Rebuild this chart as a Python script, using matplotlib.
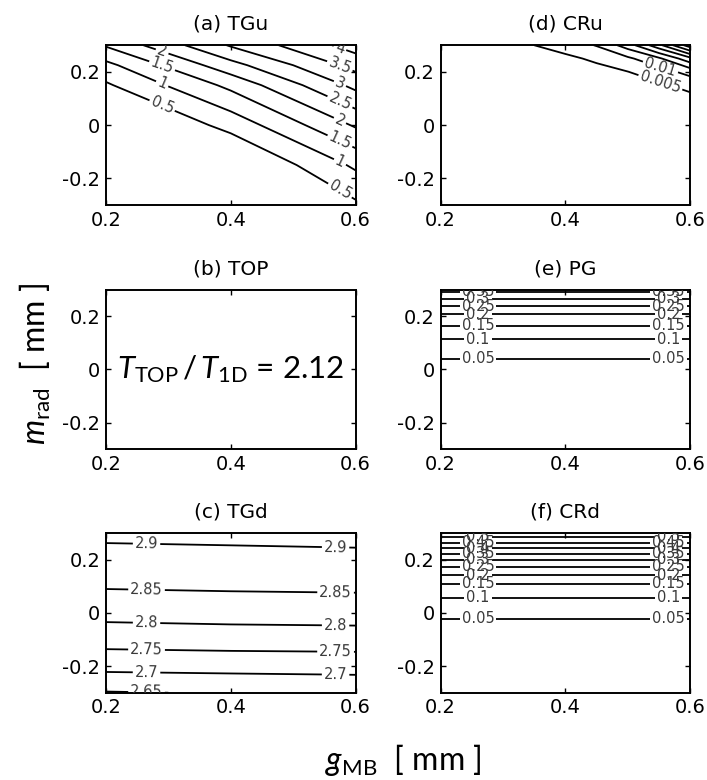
import numpy as np
import matplotlib
matplotlib.use("Agg")
import matplotlib.pyplot as plt

plt.rcParams['font.family'] = ['DejaVu Sans']
plt.rcParams['mathtext.fontset'] = 'custom'
plt.rcParams['mathtext.rm'] = 'Lato'
plt.rcParams['mathtext.it'] = 'Lato:italic'

# (a) TGu  -- field values read at grid nodes (rows = m_rad, cols = g_MB)
tgu_x = [0.2, 0.4, 0.6]
tgu_y = [-0.3, -0.15, 0.0, 0.15, 0.225, 0.3]
tgu_z = [[-1.6, -0.9, 0.41],
         [-1.0, -0.16, 1.09],
         [-0.3, 0.67, 2.06],
         [0.43, 1.63, 3.14],
         [0.86, 2.32, 3.68],
         [1.55, 3.05, 4.22]]
tgu_levels = [0.5, 1.0, 1.5, 2.0, 2.5, 3.0, 3.5, 4.0, 4.5]

# (b) TOP
top_ratio = 2.12

# (c) TGd
tgd_x = [0.2, 0.4, 0.6]
tgd_y = [-0.3, -0.2, -0.1, 0.0, 0.1, 0.2, 0.3]
tgd_z = [[2.647, 2.653, 2.659],
         [2.715, 2.718, 2.720],
         [2.770, 2.774, 2.776],
         [2.816, 2.820, 2.822],
         [2.854, 2.857, 2.859],
         [2.882, 2.885, 2.887],
         [2.911, 2.913, 2.916]]
tgd_levels = [2.65, 2.7, 2.75, 2.8, 2.85, 2.9]

# (d) CRu
cru_x = [0.2, 0.3, 0.4, 0.45, 0.5, 0.55, 0.6]
cru_y = [-0.3, 0.0, 0.1, 0.15, 0.2, 0.25, 0.3]
cru_z = [[0, 0, 0, 0, 0, 0, 0],
         [0, 0, 0, 0, 0, 0, 0],
         [0, 0, 0, 0, 0.0004, 0.0022, 0.0036],
         [0, 0, 0, 0.0011, 0.0027, 0.0042, 0.0066],
         [0, 0, 0.0017, 0.0033, 0.0049, 0.0078, 0.0117],
         [0, 0.0007, 0.0039, 0.0059, 0.0090, 0.0141, 0.0235],
         [0, 0.0029, 0.0071, 0.0103, 0.0174, 0.0285, 0.0430]]
cru_levels = [0.005, 0.01, 0.015, 0.02, 0.025, 0.03, 0.035, 0.04]

# (e) PG  -- same profile along g_MB
pg_x = [0.2, 0.6]
pg_y = [-0.3, -0.2, -0.1, 0.0, 0.05, 0.1, 0.15, 0.2, 0.225, 0.25, 0.275, 0.3]
pg_z = [0.0, 0.001, 0.005, 0.023, 0.056, 0.088, 0.134, 0.188, 0.229, 0.273, 0.317, 0.369]
pg_levels = [0.05, 0.1, 0.15, 0.2, 0.25, 0.3, 0.35]

# (f) CRd
crd_x = [0.2, 0.6]
crd_y = [-0.3, -0.2, -0.1, 0.0, 0.05, 0.1, 0.125, 0.15, 0.175, 0.2, 0.225, 0.25, 0.275, 0.3]
crd_z = [0.0, 0.01, 0.025, 0.057, 0.095, 0.138, 0.171, 0.214, 0.254, 0.3, 0.357, 0.417, 0.476, 0.536]
crd_levels = [0.05, 0.1, 0.15, 0.2, 0.25, 0.3, 0.35, 0.4, 0.45, 0.5]

xticks = [0.2, 0.4, 0.6]
yticks = [-0.2, 0, 0.2]


def setup(ax, title):
    ax.set_xlim(0.2, 0.6)
    ax.set_ylim(-0.3, 0.3)
    ax.set_xticks(xticks)
    ax.set_yticks(yticks)
    ax.set_xticklabels(['0.2', '0.4', '0.6'])
    ax.set_yticklabels(['-0.2', '0', '0.2'])
    ax.tick_params(direction='in', top=True, right=True, length=3.5, width=1,
                   labelsize=14, pad=4)
    for s in ax.spines.values():
        s.set_linewidth(1.4)
    ax.set_title(title, fontsize=14.5, pad=11)


def label_lines(ax, cs, spots, levels=None):
    # put labels where each line passes the requested g_MB positions
    pts = []
    for lev, segs in zip(cs.levels, cs.allsegs):
        if levels is not None and lev not in levels:
            continue
        xs = spots[lev] if isinstance(spots, dict) else spots
        for seg in segs:
            if len(seg) < 2:
                continue
            for xt in xs:
                if seg[:, 0].min() <= xt <= seg[:, 0].max():
                    o = np.argsort(seg[:, 0])
                    pts.append((xt, np.interp(xt, seg[o, 0], seg[o, 1])))
    txts = ax.clabel(cs, levels=levels if levels is not None else cs.levels,
                     manual=pts, inline=True, inline_spacing=2, fmt='%g',
                     fontsize=10.5, colors='#3a3a3a')
    for t in txts:
        t.set_clip_on(True)


fig = plt.figure(figsize=(7.07, 7.80), dpi=100)
lx, rx, w = 0.1499, 0.6233, 0.353
rows = [0.7372, 0.4240, 0.1119]
h = 0.2048

axa = fig.add_axes([lx, rows[0], w, h])
axb = fig.add_axes([lx, rows[1], w, h])
axc = fig.add_axes([lx, rows[2], w, h])
axd = fig.add_axes([rx, rows[0], w, h])
axe = fig.add_axes([rx, rows[1], w, h])
axf = fig.add_axes([rx, rows[2], w, h])

lw = 1.3

# (a)
cs = axa.contour(tgu_x, tgu_y, tgu_z, levels=tgu_levels, colors='k', linewidths=lw)
spots_a = {lev: [0.575] for lev in cs.levels}
for lev in cs.levels[:4]:
    spots_a[lev] = [0.29, 0.575]
label_lines(axa, cs, spots_a)
setup(axa, '(a) TGu')

# (b)
setup(axb, '(b) TOP')
axb.text(0.5, 0.5, r'$T_{\mathrm{TOP}}\,/\,T_{\mathrm{1D}}$ = ' + f'{top_ratio:.2f}',
         transform=axb.transAxes, ha='center', va='center', fontsize=22.5,
         family='Lato')

# (c)
cs = axc.contour(tgd_x, tgd_y, tgd_z, levels=tgd_levels, colors='k', linewidths=lw)
label_lines(axc, cs, [0.265, 0.568])
setup(axc, '(c) TGd')

# (d)
cs = axd.contour(cru_x, cru_y, cru_z, levels=cru_levels, colors='k', linewidths=lw)
label_lines(axd, cs, [0.552], levels=[0.005, 0.01])
setup(axd, '(d) CRu')

# (e)
pg = np.column_stack([pg_z, pg_z])
cs = axe.contour(pg_x, pg_y, pg, levels=pg_levels, colors='k', linewidths=lw)
label_lines(axe, cs, [0.26, 0.565])
setup(axe, '(e) PG')

# (f)
crd = np.column_stack([crd_z, crd_z])
cs = axf.contour(crd_x, crd_y, crd, levels=crd_levels, colors='k', linewidths=lw)
label_lines(axf, cs, [0.26, 0.565])
setup(axf, '(f) CRd')

fig.text(0.05, 0.533, r'$m_{\mathrm{rad}}$  [ mm ]', rotation=90, ha='center',
         va='center', fontsize=23, family='Lato')
fig.text(0.570, 0.026, r'$g_{\mathrm{MB}}$  [ mm ]', ha='center', va='center',
         fontsize=23, family='Lato')

fig.savefig('out.png', dpi=100)
